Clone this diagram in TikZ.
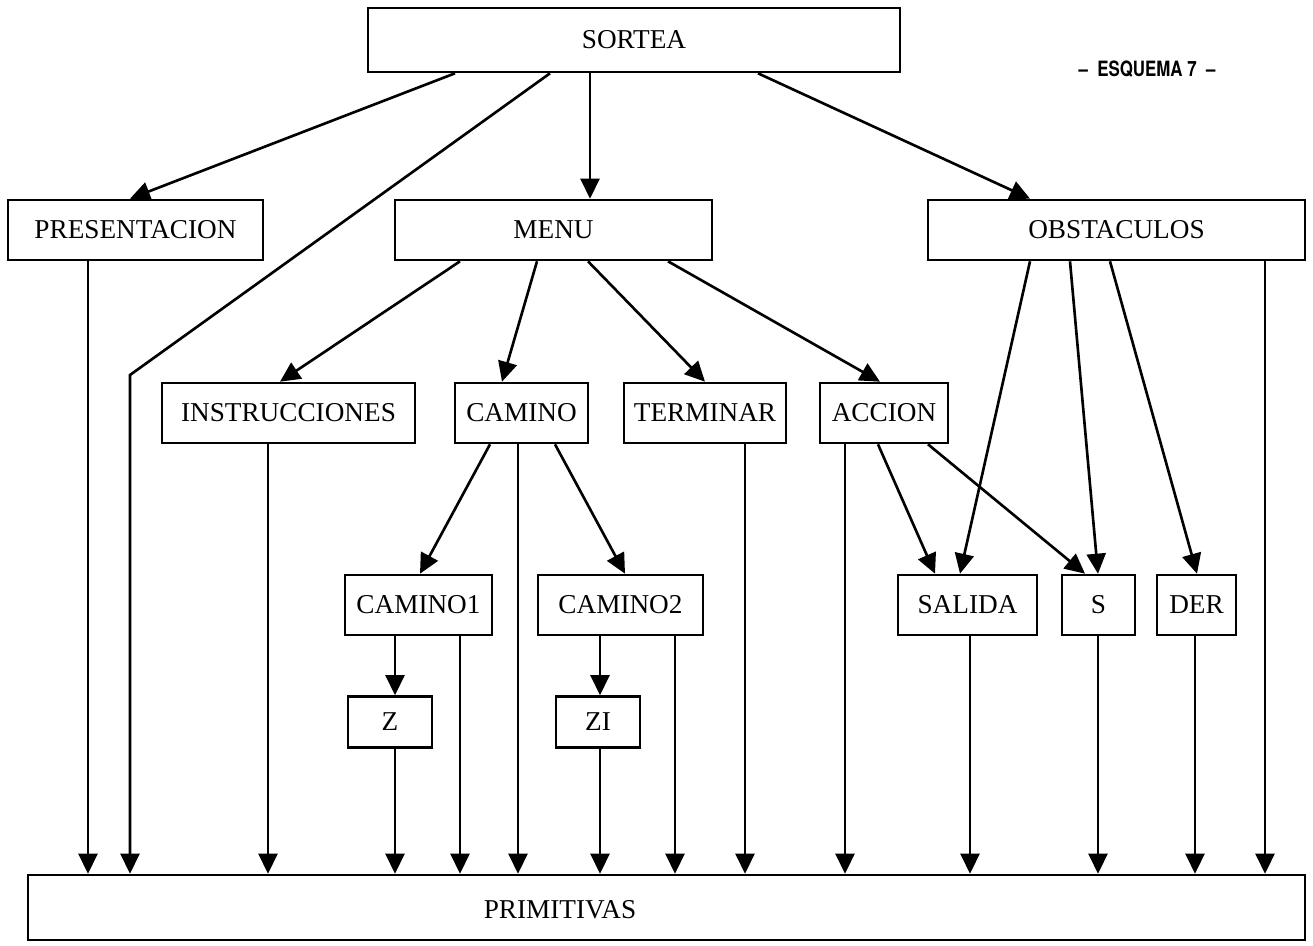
\documentclass[tikz,border=0pt]{standalone}
\usepackage{fontspec}
\setmainfont{Liberation Serif}
\newfontfamily\headfont[FakeStretch=0.8]{TeX Gyre Heros}
\usetikzlibrary{arrows.meta}
\begin{document}
\begin{tikzpicture}[x=0.02cm,y=-0.02cm,
  box/.style={draw, line width=1.5pt, inner sep=0pt, minimum height=1.2cm, font=\fontsize{15.5}{18}\selectfont},
  arr/.style={line width=1.5pt, -{Triangle[length=4mm,width=3.8mm]}}]
\useasboundingbox (0,0) rectangle (1313,946);
\node[box, minimum width=10.64cm, minimum height=1.28cm] (sortea) at (634,40) {SORTEA};
\node[font=\headfont\bfseries\fontsize{12}{14}\selectfont] (esq) at (1147,69) {–\ \ ESQUEMA 7\ \ –};
\node[box, minimum width=5.1cm] (pres) at (135.5,230) {PRESENTACION};
\node[box, minimum width=6.34cm] (menu) at (553.5,230) {MENU};
\node[box, minimum width=7.54cm] (obst) at (1116.5,230) {OBSTACULOS};
\node[box, minimum width=5.06cm] (instr) at (288.5,413) {INSTRUCCIONES};
\node[box, minimum width=2.66cm] (camino) at (521.5,413) {CAMINO};
\node[box, minimum width=3.24cm] (termin) at (705,413) {TERMINAR};
\node[box, minimum width=2.56cm] (accion) at (884,413) {ACCION};
\node[box, minimum width=2.94cm] (cam1) at (418.5,605) {CAMINO1};
\node[box, minimum width=3.3cm] (cam2) at (620.5,605) {CAMINO2};
\node[box, minimum width=2.78cm] (salida) at (967.5,605) {SALIDA};
\node[box, minimum width=1.46cm] (s) at (1098.5,605) {S};
\node[box, minimum width=1.58cm] (der) at (1196.5,605) {DER};
\node[box, minimum width=1.68cm, minimum height=1.02cm] (z) at (390,722) {Z};
\node[box, minimum width=1.68cm, minimum height=1.02cm] (zi) at (598,722) {ZI};
\node[box, minimum width=25.54cm, minimum height=1.3cm] (prim) at (666.5,907.5) {};
\node[font=\fontsize{15.5}{18}\selectfont] (primt) at (560,910) {PRIMITIVAS};
\coordinate (bend) at (130,375);
% from SORTEA
\draw[arr] (sortea.south -| 455,0) -- (pres.north -| 130,0);
\draw[arr] (sortea.south -| 550,0) -- (bend) -- (prim.north -| bend);
\draw[arr] (sortea.south -| 590,0) -- (menu.north -| 590,0);
\draw[arr] (sortea.south -| 758,0) -- (obst.north -| 1030,0);
% from PRESENTACION
\draw[arr] (pres.south -| 88,0) -- (prim.north -| 88,0);
% from MENU
\draw[arr] (menu.south -| 460,0) -- (instr.north -| 280,0);
\draw[arr] (menu.south -| 537,0) -- (camino.north -| 502,0);
\draw[arr] (menu.south -| 588,0) -- (termin.north -| 705,0);
\draw[arr] (menu.south -| 668,0) -- (accion.north -| 880,0);
% from OBSTACULOS
\draw[arr] (obst.south -| 1030,0) -- (salida.north -| 960,0);
\draw[arr] (obst.south -| 1070,0) -- (s.north -| 1098,0);
\draw[arr] (obst.south -| 1110,0) -- (der.north -| 1197,0);
\draw[arr] (obst.south -| 1265,0) -- (prim.north -| 1265,0);
% second row
\draw[arr] (instr.south -| 268,0) -- (prim.north -| 268,0);
\draw[arr] (camino.south -| 490,0) -- (cam1.north -| 420,0);
\draw[arr] (camino.south -| 518,0) -- (prim.north -| 518,0);
\draw[arr] (camino.south -| 555,0) -- (cam2.north -| 625,0);
\draw[arr] (termin.south -| 745,0) -- (prim.north -| 745,0);
\draw[arr] (accion.south -| 845,0) -- (prim.north -| 845,0);
\draw[arr] (accion.south -| 878,0) -- (salida.north -| 935,0);
\draw[arr] (accion.south -| 928,0) -- (s.north -| 1085,0);
% third row
\draw[arr] (cam1.south -| 395,0) -- (z.north -| 395,0);
\draw[arr] (cam1.south -| 460,0) -- (prim.north -| 460,0);
\draw[arr] (cam2.south -| 600,0) -- (zi.north -| 600,0);
\draw[arr] (cam2.south -| 675,0) -- (prim.north -| 675,0);
\draw[arr] (z.south -| 395,0) -- (prim.north -| 395,0);
\draw[arr] (zi.south -| 600,0) -- (prim.north -| 600,0);
\draw[arr] (salida.south -| 970,0) -- (prim.north -| 970,0);
\draw[arr] (s.south -| 1098,0) -- (prim.north -| 1098,0);
\draw[arr] (der.south -| 1195,0) -- (prim.north -| 1195,0);
\end{tikzpicture}
\end{document}
